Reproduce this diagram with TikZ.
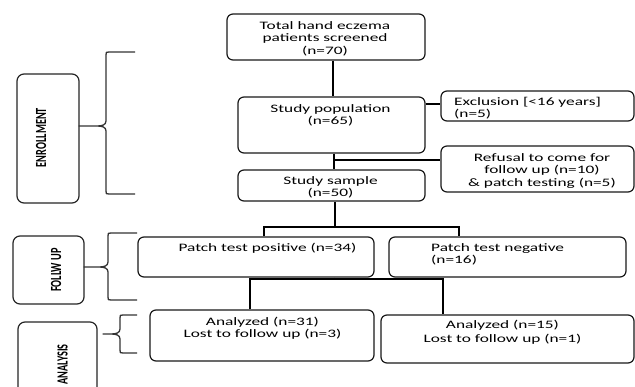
\documentclass[tikz,border=0pt]{standalone}
\usepackage{fontspec}
\usepackage{graphicx}
\setmainfont{Carlito}[FakeStretch=1.52]
\newfontfamily\sidefont{Carlito}
\newcommand\bodyfont{\fontsize{11.4}{12.8}\selectfont}
\newcommand\fs{\rule{0pt}{9pt}}
\tikzset{
  box/.style={draw=black!90, line width=1.2pt, rounded corners=6pt, inner sep=0pt},
  side/.style={draw=black!85, line width=1.2pt, rounded corners=7pt, inner sep=0pt},
  txt/.style={inner sep=0pt, align=center, anchor=north, font=\bodyfont},
  txtl/.style={inner sep=0pt, align=left, anchor=north west, font=\bodyfont},
  conn/.style={line width=2.4pt, black},
  brace/.style={line width=1.3pt, black!80, line join=round},
  vlabel/.style={rotate=90, inner sep=0pt, font=\sidefont\bfseries\fontsize{10.3}{12}\selectfont}
}
\newcommand\brc[6]{% tip x, spine x, arm x, top y, mid y, bottom y
  \draw[brace] (#3,#4) -- (#2+3,#4) .. controls (#2,#4) .. (#2,#4+3)
    -- (#2,#5-5) .. controls (#2,#5-1) and (#2-4,#5) .. (#2-9,#5) -- (#1,#5)
    -- (#2-9,#5) .. controls (#2-4,#5) and (#2,#5+1) .. (#2,#5+5)
    -- (#2,#6-3) .. controls (#2,#6) .. (#2+3,#6) -- (#3,#6);}
\begin{document}
\begin{tikzpicture}[x=1pt,y=-1pt]
\clip (0,0) rectangle (635,387);
\fill[white] (0,0) rectangle (635,387);

% side boxes
\node[side, minimum width=62, minimum height=129] (enroll) at (48,138.5) {};
\node[side, minimum width=71, minimum height=68] (follow) at (48.5,270) {};
\node[side, minimum width=79, minimum height=98] (analysis) at (57.5,371) {};
\node[vlabel] (enrolltxt) at (41,137.5) {\scalebox{1}[1.5]{ENROLLMENT}};
\node[vlabel] (followtxt) at (56,270) {\scalebox{1}[1.5]{FOLLW UP}};
\node[vlabel] (analysistxt) at (62.5,364.5) {\scalebox{1}[1.5]{ANALYSIS}};

% braces
\brc{79}{106}{135}{52}{126}{194}
\brc{84}{108}{137}{233}{267}{300}
\brc{103}{120}{137}{315}{334}{353}

% main boxes
\node[box, minimum width=198, minimum height=46] (top) at (326,37) {};
\node[box, minimum width=187, minimum height=56] (pop) at (331.5,125) {};
\node[box, minimum width=193, minimum height=30] (excl) at (537.5,106) {};
\node[box, minimum width=193, minimum height=46] (refusal) at (537.5,169) {};
\node[box, minimum width=187, minimum height=31] (sample) at (331.5,185.5) {};
\node[box, minimum width=236, minimum height=40] (pos) at (256,257) {};
\node[box, minimum width=237, minimum height=40] (neg) at (507.5,257) {};
\node[box, minimum width=224, minimum height=51] (an1) at (262,335.5) {};
\node[box, minimum width=253, minimum height=48] (an2) at (507.5,339) {};

% texts
\node[txt] (toptxt) at (325,20) {\fs Total hand eczema\\patients screened\\(n=70)};
\node[txt] (poptxt) at (330.5,103) {\fs Study population\\(n=65)};
\node[txtl] (excltxt) at (454,96) {\fs Exclusion [<16 years]\\(n=5)};
\begin{scope}
  \clip (441,140) rectangle (634,187.6);
  \node[txt] (reftxt) at (542,152) {\fs Refusal to come for\\follow up (n=10)\\\& patch testing (n=5)};
\end{scope}
\node[txt] (sampletxt) at (330.5,175) {\fs Study sample\\(n=50)};
\node[txt] (postxt) at (267.5,242) {\fs Patch test positive (n=34)};
\node[txtl] (negtxt) at (431,242) {\fs Patch test negative\\(n=16)};
\node[txt] (an1txt) at (262.5,316) {\fs Analyzed (n=31)\\Lost to follow up (n=3)};
\node[txt, font=\fontsize{11.4}{14}\selectfont] (an2txt) at (502.5,319) {\fs Analyzed (n=15)\\Lost to follow up (n=1)};

% connector coordinates
\coordinate (xa) at (333,0);
\coordinate (ya) at (0,104);
\coordinate (xb) at (334,0);
\coordinate (yb) at (0,160);
\coordinate (xc) at (335,0);
\coordinate (yc) at (0,227);
\coordinate (xd) at (264,0);
\coordinate (xe) at (459,0);
\coordinate (yd) at (0,279);
\coordinate (xf) at (250,0);
\coordinate (xg) at (443,0);

% connectors
\draw[conn] (top.south -| xa) -- (pop.north -| xa);
\draw[conn] (pop.east |- ya) -- (excl.west |- ya);
\draw[conn] (pop.south -| xb) -- (sample.north -| xb);
\draw[conn] (xb |- yb) -- (refusal.west |- yb);
\draw[conn] (sample.south -| xc) -- (xc |- yc);
\draw[conn] (pos.north -| xd) -- (xd |- yc) -- (xe |- yc) -- (neg.north -| xe);
\draw[conn] (pos.south -| xb) -- (xb |- yd);
\draw[conn] (an1.north -| xf) -- (xf |- yd) -- (xg |- yd) -- (an2.north -| xg);
\end{tikzpicture}
\end{document}
